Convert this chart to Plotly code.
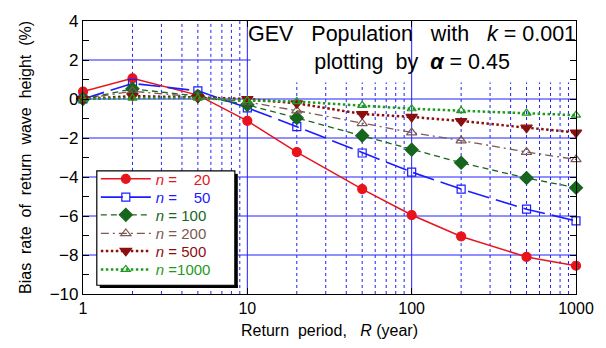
import math
import plotly.graph_objects as go

R = [1, 2, 5, 10, 20, 50, 100, 200, 500, 1000]
n20 = [0.38, 1.06, 0.2, -1.12, -2.72, -4.62, -5.95, -7.05, -8.1, -8.55]
n50 = [0.0, 0.8, 0.42, -0.45, -1.42, -2.77, -3.75, -4.62, -5.65, -6.25]
n100 = [0.0, 0.52, 0.15, -0.3, -0.97, -1.88, -2.6, -3.27, -4.05, -4.55]
n200 = [0.0, 0.4, 0.1, -0.15, -0.6, -1.25, -1.72, -2.13, -2.72, -3.1]
n500 = [0.0, 0.15, 0.08, 0.0, -0.22, -0.77, -0.92, -1.13, -1.47, -1.72]
n1000 = [0.0, 0.05, 0.05, -0.08, -0.13, -0.33, -0.5, -0.6, -0.72, -0.83]

x_ticks = [1, 10, 100, 1000]
x_major_grid = [10, 100]
x_minor = [2, 3, 4, 5, 6, 7, 8, 9, 20, 30, 40, 50, 60, 70, 80, 90,
           200, 300, 400, 500, 600, 700, 800, 900]
y_ticks = [4, 2, 0, -2, -4, -6, -8, -10]
y_grid = [2, 0, -2, -4, -6, -8]

FONT = "Arial, Liberation Sans, sans-serif"
NB = "\u00a0"
GRID = "#2020ff"
YMIN, YMAX = -10, 4

series = [
    ("20", n20, "#e8141b", "solid", 1.5, "circle", 9),
    ("50", n50, "#1c1cff", "22px,7px", 1.6, "square-open", 8),
    ("100", n100, "#17661d", "6px,4px", 1.3, "diamond", 10),
    ("200", n200, "#7a5a52", "8px,4px,2px,4px", 1.3, "triangle-up-open", 9),
    ("500", n500, "#8b0f0f", "2.5px,2.5px", 2.5, "triangle-down", 10),
    ("1000", n1000, "#1e9a1e", "2.5px,2.5px", 2.5, "triangle-up-open", 8),
]

# boxes (paper fractions)
TITLE_BOX = dict(x0=0.34, x1=1.0, y0=0.775, y1=1.0)
LEG_BOX = dict(x0=0.028, x1=0.308, y0=0.032, y1=0.451)
SHADOW = 0.006
legend_rows = [0.421, 0.354, 0.289, 0.221, 0.157, 0.089]

fig = go.Figure()
legend_layouts = {}
for i, (lab, vals, col, dash, lw, sym, ms) in enumerate(series):
    if lab in ("20", "50"):
        txt = f"<i>n</i> ={NB}{NB}{NB}{NB}{lab}"
    elif lab == "1000":
        txt = "<i>n</i> =1000"
    else:
        txt = f"<i>n</i> = {lab}"
    lname = "legend" if i == 0 else f"legend{i+1}"
    fig.add_trace(go.Scatter(
        x=R, y=vals, mode="lines+markers", cliponaxis=False,
        name=f'<span style="color:{col}">{txt}</span>',
        legend=lname,
        line=dict(color=col, dash=dash, width=lw),
        marker=dict(symbol=sym, color=col, size=ms,
                    line=dict(color=col, width=1.2)),
    ))
    legend_layouts[lname] = dict(
        x=0.026, y=legend_rows[i], xanchor="left", yanchor="middle",
        bgcolor="rgba(0,0,0,0)", borderwidth=0,
        font=dict(family=FONT, size=15),
        itemwidth=50,
    )

fig.update_layout(
    width=606, height=348,
    margin=dict(l=83, r=29, t=14, b=54),
    paper_bgcolor="white", plot_bgcolor="white",
    font=dict(family=FONT, size=15, color="black"),
    showlegend=True,
    **legend_layouts,
    xaxis=dict(
        type="log", range=[0, 3],
        tickvals=x_ticks, ticktext=[str(v) for v in x_ticks],
        showgrid=False,
        ticks="inside", ticklen=6, tickcolor="black",
        showline=True, linecolor="black", linewidth=1.2, mirror="ticks",
        zeroline=False,
        tickfont=dict(size=16),
        title=dict(text=f"Return{NB}{NB}period,{NB}{NB}{NB}<i>R</i> (year)",
                   font=dict(size=16), standoff=8),
    ),
    yaxis=dict(
        range=[YMIN, YMAX], tickvals=y_ticks,
        showgrid=False,
        ticks="inside", ticklen=6, tickcolor="black",
        showline=True, linecolor="black", linewidth=1.2, mirror="ticks",
        zeroline=False,
        tickfont=dict(size=17),
        minor=dict(dtick=1, ticks="inside", ticklen=6, tickcolor="black",
                   showgrid=False),
        title=dict(text=f"Bias{NB}{NB}rate{NB}{NB}of{NB}{NB}return{NB}{NB}wave{NB}{NB}height{NB}{NB}(%)",
                   font=dict(size=16), standoff=14),
    ),
)


def vsegments(v):
    fx = math.log10(v) / 3.0
    if TITLE_BOX["x0"] <= fx <= TITLE_BOX["x1"]:
        return [(0, TITLE_BOX["y0"])]
    if LEG_BOX["x0"] <= fx <= LEG_BOX["x1"] + SHADOW:
        return [(0, LEG_BOX["y0"] - SHADOW), (LEG_BOX["y1"], 1)]
    return [(0, 1)]


def hsegments(v):
    fy = (v - YMIN) / (YMAX - YMIN)
    if TITLE_BOX["y0"] <= fy <= TITLE_BOX["y1"]:
        return [(0, TITLE_BOX["x0"])]
    if LEG_BOX["y0"] - SHADOW <= fy <= LEG_BOX["y1"]:
        return [(0, LEG_BOX["x0"]), (LEG_BOX["x1"] + SHADOW, 1)]
    return [(0, 1)]


for v in x_minor:
    for a, b in vsegments(v):
        fig.add_shape(type="line", xref="x", yref="paper", x0=v, x1=v, y0=a, y1=b,
                      line=dict(color=GRID, width=1, dash="dot"), layer="below")
for v in x_major_grid:
    fig.add_shape(type="line", xref="x", yref="paper", x0=v, x1=v, y0=0, y1=1,
                  line=dict(color=GRID, width=1), layer="below")
for v in y_grid:
    for a, b in hsegments(v):
        fig.add_shape(type="line", xref="paper", yref="y", x0=a, x1=b, y0=v, y1=v,
                      line=dict(color=GRID, width=1), layer="below")

# title text
fig.add_annotation(
    xref="paper", yref="paper", x=0.668, y=0.902, showarrow=False,
    xanchor="center", yanchor="middle",
    text=(f"GEV{NB}{NB}{NB}Population{NB}{NB}{NB}with{NB}{NB}{NB}<i>k</i> = 0.001<br>"
          f"plotting{NB}{NB}by{NB}{NB}<b><i>α</i></b> = 0.45"),
    font=dict(family=FONT, size=21.5, color="black"), align="center",
)

# legend box with shadow
fig.add_shape(type="rect", xref="paper", yref="paper",
              x0=LEG_BOX["x1"], x1=LEG_BOX["x1"] + SHADOW,
              y0=LEG_BOX["y0"] - 0.01, y1=LEG_BOX["y1"] - 0.011,
              fillcolor="black", line=dict(width=0), layer="above")
fig.add_shape(type="rect", xref="paper", yref="paper",
              x0=LEG_BOX["x0"] + SHADOW, x1=LEG_BOX["x1"] + SHADOW,
              y0=LEG_BOX["y0"] - 0.01, y1=LEG_BOX["y0"],
              fillcolor="black", line=dict(width=0), layer="above")
fig.add_shape(type="rect", xref="paper", yref="paper", **LEG_BOX,
              fillcolor="rgba(0,0,0,0)", line=dict(color="black", width=1.2),
              layer="above")

fig.write_html("out.html")
